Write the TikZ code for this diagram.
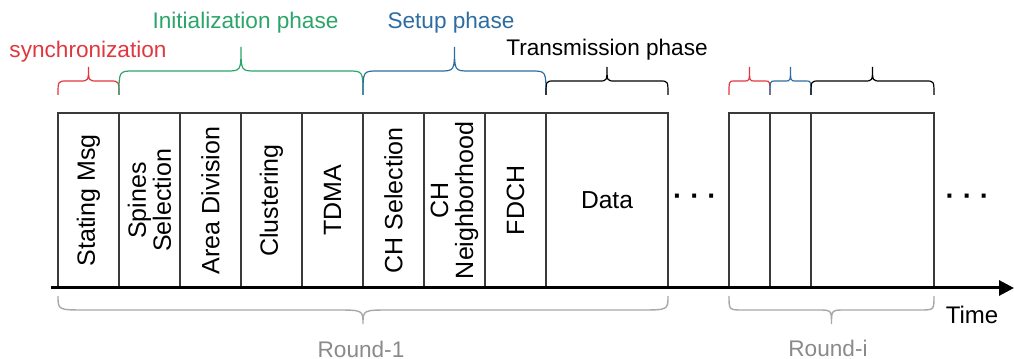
\documentclass[tikz,border=0pt]{standalone}
\usepackage{fontspec}
\setmainfont{Liberation Sans}
\usepackage{tikz}
\usetikzlibrary{arrows.meta,positioning,calc}
\definecolor{syncred}{HTML}{E0373F}
\definecolor{initgreen}{HTML}{2BA56A}
\definecolor{setupblue}{HTML}{2D6CA2}
\definecolor{boxgray}{HTML}{3A3A3A}
\definecolor{roundgray}{HTML}{8A8A8A}
\definecolor{bracegray}{HTML}{A8A8A8}

\tikzset{
 slot/.style={draw=boxgray,line width=0.7pt,minimum width=30.5pt,minimum height=87.5pt,inner sep=0pt,outer sep=0pt},
 vtext/.style={rotate=90,align=center,font=\fontsize{12.5}{12.5}\selectfont},
 phase/.style={font=\fontsize{11.3}{13}\selectfont},
 curly/.style n args={3}{to path={let \p1=(\tikztostart),\p2=(\tikztotarget),\p3=($(\p1)!0.5!(\p2)$) in
  ({\x1},{\y1+(#3)}) .. controls ({\x1},{\y1+(#3)+(#1)/2}) .. ({\x1+(#2)},{\y1+(#3)+(#1)/2})
  -- ({\x3-(#2)},{\y1+(#3)+(#1)/2}) .. controls ({\x3},{\y1+(#3)+(#1)/2}) .. ({\x3},{\y1+(#3)+(#1)})
  .. controls ({\x3},{\y1+(#3)+(#1)/2}) .. ({\x3+(#2)},{\y1+(#3)+(#1)/2})
  -- ({\x2-(#2)},{\y1+(#3)+(#1)/2}) .. controls ({\x2},{\y1+(#3)+(#1)/2}) .. ({\x2},{\y1+(#3)})}},
}

\begin{document}
\begin{tikzpicture}[x=0.5pt,y=0.5pt,>=Stealth]
 \useasboundingbox (0,0) rectangle (1014,359);
 % round 1
 \node[slot,label={[vtext]center:Stating Msg}] (sm) at (88.5,158.5) {};
 \node[slot,right=0pt of sm,label={[vtext]center:{Spines\\Selection}}] (ss) {};
 \node[slot,right=0pt of ss,label={[vtext]center:Area Division}] (ad) {};
 \node[slot,right=0pt of ad,label={[vtext]center:Clustering}] (cl) {};
 \node[slot,right=0pt of cl,label={[vtext]center:TDMA}] (td) {};
 \node[slot,right=0pt of td,label={[vtext]center:CH Selection}] (chs) {};
 \node[slot,right=0pt of chs,label={[vtext]center:{CH\\Neighborhood}}] (chn) {};
 \node[slot,right=0pt of chn,label={[vtext]center:FDCH}] (fd) {};
 \node[slot,right=0pt of fd,minimum width=61pt,font=\fontsize{12.3}{14}\selectfont] (data) {Data};
 % round i
 \node[slot,minimum width=20.5pt] (ri1) at (749.5,158.5) {};
 \node[slot,right=0pt of ri1,minimum width=20.5pt] (ri2) {};
 \node[slot,right=0pt of ri2,minimum width=61.5pt] (ri3) {};
 \node[font=\bfseries\fontsize{14}{16}\selectfont] (dots1) at (695,159) {· · ·};
 \node[font=\bfseries\fontsize{14}{16}\selectfont] (dots2) at (967.5,159) {· · ·};
 % time axis
 \coordinate (t0) at (51,71);
 \coordinate (t1) at (1014,71);
 \draw[line width=1.5pt,-{Triangle[length=7.5pt,width=7.5pt]}] (t0) -- (t1);
 \node[font=\fontsize{12}{14}\selectfont] (time) at (972,44) {Time};
 % phase braces
 \draw[syncred,line width=0.6pt] (sm.north west) to[curly={14pt}{4.5pt}{9pt}] (sm.north east);
 \draw[initgreen,line width=0.6pt] (ss.north west) to[curly={24pt}{7.5pt}{9pt}] (td.north east);
 \draw[setupblue,line width=0.6pt] (chs.north west) to[curly={24pt}{7.5pt}{9pt}] (fd.north east);
 \draw[black,line width=0.6pt] (data.north west) to[curly={14pt}{4pt}{9pt}] (data.north east);
 \draw[syncred,line width=0.6pt] (ri1.north west) to[curly={14pt}{2.5pt}{9pt}] (ri1.north east);
 \draw[setupblue,line width=0.6pt] (ri2.north west) to[curly={14pt}{2.5pt}{9pt}] (ri2.north east);
 \draw[black,line width=0.6pt] (ri3.north west) to[curly={14pt}{4pt}{9pt}] (ri3.north east);
 \node[phase,text=syncred] (synclab) at (88,307) {synchronization};
 \node[phase,text=initgreen] (initlab) at (245.5,336) {Initialization phase};
 \node[phase,text=setupblue] (setuplab) at (451,336) {Setup phase};
 \node[phase] (translab) at (607,309) {Transmission phase};
 % round braces
 \draw[bracegray,line width=0.7pt] (sm.south west) to[curly={-14pt}{14pt}{-4pt}] (data.south east);
 \draw[bracegray,line width=0.7pt] (ri1.south west) to[curly={-14pt}{7pt}{-4pt}] (ri3.south east);
 \node[phase,text=roundgray] (r1lab) at (361,10) {Round-1};
 \node[phase,text=roundgray] (rilab) at (828,11) {Round-i};
\end{tikzpicture}
\end{document}
